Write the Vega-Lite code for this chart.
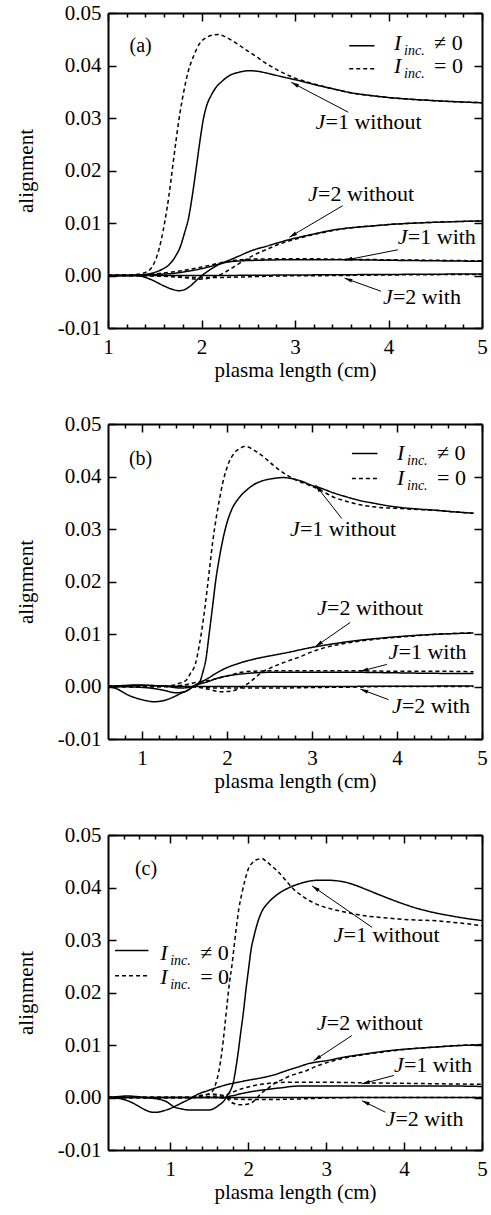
{
"$schema": "https://vega.github.io/schema/vega-lite/v6.json",
"padding": {"left": 15, "top": 2, "right": 5, "bottom": 5},
"background": "white",
"config": {
  "view": {"stroke": null},
  "axis": {"labelFont": "Liberation Serif", "labelFontSize": 21, "labelColor": "black", "titleFont": "Liberation Serif", "titleFontSize": 21, "titleFontWeight": "normal", "titleColor": "black", "tickColor": "black", "domainColor": "black", "domainWidth": 2, "tickWidth": 1.5, "grid": false, "labelFlush": false, "labelOverlap": false},
  "text": {"font": "Liberation Serif", "color": "black"}
},
"datasets": {
"curves": [
{"p":"a","s":"J1wo","t":"nonzero","x":1,"y":0},{"p":"a","s":"J1wo","t":"nonzero","x":1.2,"y":0},{"p":"a","s":"J1wo","t":"nonzero","x":1.3,"y":0.0001},{"p":"a","s":"J1wo","t":"nonzero","x":1.4,"y":0.0002},{"p":"a","s":"J1wo","t":"nonzero","x":1.5,"y":0.0006},{"p":"a","s":"J1wo","t":"nonzero","x":1.57,"y":0.0011},{"p":"a","s":"J1wo","t":"nonzero","x":1.65,"y":0.002},{"p":"a","s":"J1wo","t":"nonzero","x":1.72,"y":0.0036},{"p":"a","s":"J1wo","t":"nonzero","x":1.78,"y":0.0058},{"p":"a","s":"J1wo","t":"nonzero","x":1.82,"y":0.0082},{"p":"a","s":"J1wo","t":"nonzero","x":1.86,"y":0.0108},{"p":"a","s":"J1wo","t":"nonzero","x":1.9,"y":0.015},{"p":"a","s":"J1wo","t":"nonzero","x":1.94,"y":0.02},{"p":"a","s":"J1wo","t":"nonzero","x":1.98,"y":0.0252},{"p":"a","s":"J1wo","t":"nonzero","x":2.02,"y":0.0298},{"p":"a","s":"J1wo","t":"nonzero","x":2.06,"y":0.0326},{"p":"a","s":"J1wo","t":"nonzero","x":2.1,"y":0.0342},{"p":"a","s":"J1wo","t":"nonzero","x":2.15,"y":0.0357},{"p":"a","s":"J1wo","t":"nonzero","x":2.22,"y":0.037},{"p":"a","s":"J1wo","t":"nonzero","x":2.3,"y":0.0381},{"p":"a","s":"J1wo","t":"nonzero","x":2.4,"y":0.0387},{"p":"a","s":"J1wo","t":"nonzero","x":2.5,"y":0.039},{"p":"a","s":"J1wo","t":"nonzero","x":2.6,"y":0.0389},{"p":"a","s":"J1wo","t":"nonzero","x":2.71,"y":0.0385},{"p":"a","s":"J1wo","t":"nonzero","x":2.85,"y":0.0379},{"p":"a","s":"J1wo","t":"nonzero","x":3,"y":0.0373},{"p":"a","s":"J1wo","t":"nonzero","x":3.2,"y":0.0364},{"p":"a","s":"J1wo","t":"nonzero","x":3.42,"y":0.0355},{"p":"a","s":"J1wo","t":"nonzero","x":3.6,"y":0.0348},{"p":"a","s":"J1wo","t":"nonzero","x":3.8,"y":0.0343},{"p":"a","s":"J1wo","t":"nonzero","x":4,"y":0.0339},{"p":"a","s":"J1wo","t":"nonzero","x":4.3,"y":0.0335},{"p":"a","s":"J1wo","t":"nonzero","x":4.6,"y":0.0332},{"p":"a","s":"J1wo","t":"nonzero","x":5,"y":0.0329},
{"p":"a","s":"J1wo","t":"zero","x":1,"y":0},{"p":"a","s":"J1wo","t":"zero","x":1.3,"y":0.0002},{"p":"a","s":"J1wo","t":"zero","x":1.4,"y":0.0006},{"p":"a","s":"J1wo","t":"zero","x":1.47,"y":0.0016},{"p":"a","s":"J1wo","t":"zero","x":1.52,"y":0.0035},{"p":"a","s":"J1wo","t":"zero","x":1.57,"y":0.0068},{"p":"a","s":"J1wo","t":"zero","x":1.61,"y":0.0105},{"p":"a","s":"J1wo","t":"zero","x":1.65,"y":0.015},{"p":"a","s":"J1wo","t":"zero","x":1.69,"y":0.0205},{"p":"a","s":"J1wo","t":"zero","x":1.73,"y":0.026},{"p":"a","s":"J1wo","t":"zero","x":1.77,"y":0.031},{"p":"a","s":"J1wo","t":"zero","x":1.81,"y":0.035},{"p":"a","s":"J1wo","t":"zero","x":1.86,"y":0.039},{"p":"a","s":"J1wo","t":"zero","x":1.92,"y":0.042},{"p":"a","s":"J1wo","t":"zero","x":1.98,"y":0.0442},{"p":"a","s":"J1wo","t":"zero","x":2.05,"y":0.0453},{"p":"a","s":"J1wo","t":"zero","x":2.12,"y":0.0458},{"p":"a","s":"J1wo","t":"zero","x":2.18,"y":0.0459},{"p":"a","s":"J1wo","t":"zero","x":2.25,"y":0.0455},{"p":"a","s":"J1wo","t":"zero","x":2.35,"y":0.0445},{"p":"a","s":"J1wo","t":"zero","x":2.45,"y":0.0433},{"p":"a","s":"J1wo","t":"zero","x":2.57,"y":0.0419},{"p":"a","s":"J1wo","t":"zero","x":2.7,"y":0.0403},{"p":"a","s":"J1wo","t":"zero","x":2.85,"y":0.0388},{"p":"a","s":"J1wo","t":"zero","x":3,"y":0.0376},{"p":"a","s":"J1wo","t":"zero","x":3.2,"y":0.0365},{"p":"a","s":"J1wo","t":"zero","x":3.42,"y":0.0355},{"p":"a","s":"J1wo","t":"zero","x":3.6,"y":0.0348},{"p":"a","s":"J1wo","t":"zero","x":3.8,"y":0.0343},{"p":"a","s":"J1wo","t":"zero","x":4,"y":0.0339},{"p":"a","s":"J1wo","t":"zero","x":4.3,"y":0.0335},{"p":"a","s":"J1wo","t":"zero","x":4.6,"y":0.0332},{"p":"a","s":"J1wo","t":"zero","x":5,"y":0.0329},
{"p":"a","s":"J2wo","t":"nonzero","x":1,"y":0},{"p":"a","s":"J2wo","t":"nonzero","x":1.3,"y":0},{"p":"a","s":"J2wo","t":"nonzero","x":1.5,"y":0.0002},{"p":"a","s":"J2wo","t":"nonzero","x":1.7,"y":0.0004},{"p":"a","s":"J2wo","t":"nonzero","x":1.85,"y":0.0008},{"p":"a","s":"J2wo","t":"nonzero","x":2,"y":0.0013},{"p":"a","s":"J2wo","t":"nonzero","x":2.15,"y":0.002},{"p":"a","s":"J2wo","t":"nonzero","x":2.28,"y":0.0028},{"p":"a","s":"J2wo","t":"nonzero","x":2.4,"y":0.0037},{"p":"a","s":"J2wo","t":"nonzero","x":2.53,"y":0.0047},{"p":"a","s":"J2wo","t":"nonzero","x":2.7,"y":0.0056},{"p":"a","s":"J2wo","t":"nonzero","x":2.85,"y":0.0064},{"p":"a","s":"J2wo","t":"nonzero","x":3,"y":0.0071},{"p":"a","s":"J2wo","t":"nonzero","x":3.2,"y":0.0079},{"p":"a","s":"J2wo","t":"nonzero","x":3.42,"y":0.0087},{"p":"a","s":"J2wo","t":"nonzero","x":3.6,"y":0.0091},{"p":"a","s":"J2wo","t":"nonzero","x":3.8,"y":0.0094},{"p":"a","s":"J2wo","t":"nonzero","x":4,"y":0.0097},{"p":"a","s":"J2wo","t":"nonzero","x":4.3,"y":0.01},{"p":"a","s":"J2wo","t":"nonzero","x":4.6,"y":0.0102},{"p":"a","s":"J2wo","t":"nonzero","x":5,"y":0.0104},
{"p":"a","s":"J2wo","t":"zero","x":1,"y":0},{"p":"a","s":"J2wo","t":"zero","x":1.5,"y":0},{"p":"a","s":"J2wo","t":"zero","x":1.7,"y":-0.0002},{"p":"a","s":"J2wo","t":"zero","x":1.85,"y":-0.0005},{"p":"a","s":"J2wo","t":"zero","x":1.95,"y":-0.0007},{"p":"a","s":"J2wo","t":"zero","x":2.05,"y":-0.0006},{"p":"a","s":"J2wo","t":"zero","x":2.15,"y":-0.0002},{"p":"a","s":"J2wo","t":"zero","x":2.25,"y":0.0006},{"p":"a","s":"J2wo","t":"zero","x":2.35,"y":0.0017},{"p":"a","s":"J2wo","t":"zero","x":2.45,"y":0.0028},{"p":"a","s":"J2wo","t":"zero","x":2.55,"y":0.0038},{"p":"a","s":"J2wo","t":"zero","x":2.7,"y":0.005},{"p":"a","s":"J2wo","t":"zero","x":2.85,"y":0.0061},{"p":"a","s":"J2wo","t":"zero","x":3,"y":0.0069},{"p":"a","s":"J2wo","t":"zero","x":3.2,"y":0.0078},{"p":"a","s":"J2wo","t":"zero","x":3.42,"y":0.0086},{"p":"a","s":"J2wo","t":"zero","x":3.6,"y":0.0091},{"p":"a","s":"J2wo","t":"zero","x":3.8,"y":0.0094},{"p":"a","s":"J2wo","t":"zero","x":4,"y":0.0097},{"p":"a","s":"J2wo","t":"zero","x":4.3,"y":0.01},{"p":"a","s":"J2wo","t":"zero","x":4.6,"y":0.0102},{"p":"a","s":"J2wo","t":"zero","x":5,"y":0.0104},
{"p":"a","s":"J1w","t":"nonzero","x":1,"y":0},{"p":"a","s":"J1w","t":"nonzero","x":1.3,"y":0},{"p":"a","s":"J1w","t":"nonzero","x":1.45,"y":-0.0007},{"p":"a","s":"J1w","t":"nonzero","x":1.6,"y":-0.002},{"p":"a","s":"J1w","t":"nonzero","x":1.7,"y":-0.0027},{"p":"a","s":"J1w","t":"nonzero","x":1.76,"y":-0.0029},{"p":"a","s":"J1w","t":"nonzero","x":1.83,"y":-0.0026},{"p":"a","s":"J1w","t":"nonzero","x":1.9,"y":-0.0017},{"p":"a","s":"J1w","t":"nonzero","x":1.96,"y":-0.0007},{"p":"a","s":"J1w","t":"nonzero","x":2.02,"y":0.0002},{"p":"a","s":"J1w","t":"nonzero","x":2.1,"y":0.0012},{"p":"a","s":"J1w","t":"nonzero","x":2.2,"y":0.0022},{"p":"a","s":"J1w","t":"nonzero","x":2.3,"y":0.0026},{"p":"a","s":"J1w","t":"nonzero","x":2.43,"y":0.0028},{"p":"a","s":"J1w","t":"nonzero","x":2.6,"y":0.0029},{"p":"a","s":"J1w","t":"nonzero","x":3,"y":0.003},{"p":"a","s":"J1w","t":"nonzero","x":3.5,"y":0.003},{"p":"a","s":"J1w","t":"nonzero","x":4,"y":0.0029},{"p":"a","s":"J1w","t":"nonzero","x":4.5,"y":0.0028},{"p":"a","s":"J1w","t":"nonzero","x":5,"y":0.0027},
{"p":"a","s":"J1w","t":"zero","x":1,"y":0},{"p":"a","s":"J1w","t":"zero","x":1.3,"y":0.0001},{"p":"a","s":"J1w","t":"zero","x":1.5,"y":0.0003},{"p":"a","s":"J1w","t":"zero","x":1.7,"y":0.0007},{"p":"a","s":"J1w","t":"zero","x":1.85,"y":0.0011},{"p":"a","s":"J1w","t":"zero","x":2,"y":0.0016},{"p":"a","s":"J1w","t":"zero","x":2.2,"y":0.0024},{"p":"a","s":"J1w","t":"zero","x":2.35,"y":0.0029},{"p":"a","s":"J1w","t":"zero","x":2.5,"y":0.0031},{"p":"a","s":"J1w","t":"zero","x":3,"y":0.0032},{"p":"a","s":"J1w","t":"zero","x":3.5,"y":0.0031},{"p":"a","s":"J1w","t":"zero","x":4,"y":0.003},{"p":"a","s":"J1w","t":"zero","x":4.5,"y":0.0029},{"p":"a","s":"J1w","t":"zero","x":5,"y":0.0028},
{"p":"a","s":"J2w","t":"nonzero","x":1,"y":0},{"p":"a","s":"J2w","t":"nonzero","x":2,"y":0},{"p":"a","s":"J2w","t":"nonzero","x":3,"y":0.0001},{"p":"a","s":"J2w","t":"nonzero","x":4,"y":0.0002},{"p":"a","s":"J2w","t":"nonzero","x":5,"y":0.0003},
{"p":"a","s":"J2w","t":"zero","x":1,"y":0},{"p":"a","s":"J2w","t":"zero","x":1.5,"y":-0.0001},{"p":"a","s":"J2w","t":"zero","x":1.8,"y":-0.0003},{"p":"a","s":"J2w","t":"zero","x":2.1,"y":-0.0004},{"p":"a","s":"J2w","t":"zero","x":2.4,"y":-0.0003},{"p":"a","s":"J2w","t":"zero","x":2.8,"y":-0.0001},{"p":"a","s":"J2w","t":"zero","x":3.5,"y":0},{"p":"a","s":"J2w","t":"zero","x":4,"y":0.0001},{"p":"a","s":"J2w","t":"zero","x":5,"y":0.0002},

{"p":"b","s":"J1wo","t":"nonzero","x":0.6,"y":0},{"p":"b","s":"J1wo","t":"nonzero","x":0.8,"y":0.0002},{"p":"b","s":"J1wo","t":"nonzero","x":0.95,"y":0.0003},{"p":"b","s":"J1wo","t":"nonzero","x":1.1,"y":0.0002},{"p":"b","s":"J1wo","t":"nonzero","x":1.3,"y":0},{"p":"b","s":"J1wo","t":"nonzero","x":1.45,"y":-0.0003},{"p":"b","s":"J1wo","t":"nonzero","x":1.6,"y":0},{"p":"b","s":"J1wo","t":"nonzero","x":1.67,"y":0.0006},{"p":"b","s":"J1wo","t":"nonzero","x":1.72,"y":0.003},{"p":"b","s":"J1wo","t":"nonzero","x":1.75,"y":0.005},{"p":"b","s":"J1wo","t":"nonzero","x":1.79,"y":0.01},{"p":"b","s":"J1wo","t":"nonzero","x":1.83,"y":0.0152},{"p":"b","s":"J1wo","t":"nonzero","x":1.87,"y":0.0205},{"p":"b","s":"J1wo","t":"nonzero","x":1.91,"y":0.0245},{"p":"b","s":"J1wo","t":"nonzero","x":1.95,"y":0.0279},{"p":"b","s":"J1wo","t":"nonzero","x":2,"y":0.0312},{"p":"b","s":"J1wo","t":"nonzero","x":2.05,"y":0.0335},{"p":"b","s":"J1wo","t":"nonzero","x":2.15,"y":0.0361},{"p":"b","s":"J1wo","t":"nonzero","x":2.23,"y":0.0374},{"p":"b","s":"J1wo","t":"nonzero","x":2.31,"y":0.0384},{"p":"b","s":"J1wo","t":"nonzero","x":2.42,"y":0.0392},{"p":"b","s":"J1wo","t":"nonzero","x":2.54,"y":0.0396},{"p":"b","s":"J1wo","t":"nonzero","x":2.66,"y":0.0398},{"p":"b","s":"J1wo","t":"nonzero","x":2.76,"y":0.0396},{"p":"b","s":"J1wo","t":"nonzero","x":2.86,"y":0.0392},{"p":"b","s":"J1wo","t":"nonzero","x":3,"y":0.0383},{"p":"b","s":"J1wo","t":"nonzero","x":3.1,"y":0.0378},{"p":"b","s":"J1wo","t":"nonzero","x":3.25,"y":0.0369},{"p":"b","s":"J1wo","t":"nonzero","x":3.41,"y":0.0361},{"p":"b","s":"J1wo","t":"nonzero","x":3.57,"y":0.0354},{"p":"b","s":"J1wo","t":"nonzero","x":3.73,"y":0.0349},{"p":"b","s":"J1wo","t":"nonzero","x":3.9,"y":0.0344},{"p":"b","s":"J1wo","t":"nonzero","x":4.04,"y":0.0341},{"p":"b","s":"J1wo","t":"nonzero","x":4.25,"y":0.0338},{"p":"b","s":"J1wo","t":"nonzero","x":4.43,"y":0.0336},{"p":"b","s":"J1wo","t":"nonzero","x":4.65,"y":0.0333},{"p":"b","s":"J1wo","t":"nonzero","x":4.9,"y":0.033},
{"p":"b","s":"J1wo","t":"zero","x":0.6,"y":0},{"p":"b","s":"J1wo","t":"zero","x":1.2,"y":0},{"p":"b","s":"J1wo","t":"zero","x":1.35,"y":0.0002},{"p":"b","s":"J1wo","t":"zero","x":1.45,"y":0.0007},{"p":"b","s":"J1wo","t":"zero","x":1.52,"y":0.0012},{"p":"b","s":"J1wo","t":"zero","x":1.57,"y":0.0025},{"p":"b","s":"J1wo","t":"zero","x":1.63,"y":0.0044},{"p":"b","s":"J1wo","t":"zero","x":1.67,"y":0.0075},{"p":"b","s":"J1wo","t":"zero","x":1.71,"y":0.0114},{"p":"b","s":"J1wo","t":"zero","x":1.74,"y":0.015},{"p":"b","s":"J1wo","t":"zero","x":1.77,"y":0.019},{"p":"b","s":"J1wo","t":"zero","x":1.8,"y":0.0232},{"p":"b","s":"J1wo","t":"zero","x":1.83,"y":0.0273},{"p":"b","s":"J1wo","t":"zero","x":1.87,"y":0.0318},{"p":"b","s":"J1wo","t":"zero","x":1.91,"y":0.0355},{"p":"b","s":"J1wo","t":"zero","x":1.95,"y":0.0388},{"p":"b","s":"J1wo","t":"zero","x":1.99,"y":0.0412},{"p":"b","s":"J1wo","t":"zero","x":2.03,"y":0.043},{"p":"b","s":"J1wo","t":"zero","x":2.07,"y":0.0441},{"p":"b","s":"J1wo","t":"zero","x":2.11,"y":0.0449},{"p":"b","s":"J1wo","t":"zero","x":2.15,"y":0.0453},{"p":"b","s":"J1wo","t":"zero","x":2.2,"y":0.0457},{"p":"b","s":"J1wo","t":"zero","x":2.25,"y":0.0456},{"p":"b","s":"J1wo","t":"zero","x":2.3,"y":0.0452},{"p":"b","s":"J1wo","t":"zero","x":2.35,"y":0.0447},{"p":"b","s":"J1wo","t":"zero","x":2.45,"y":0.0435},{"p":"b","s":"J1wo","t":"zero","x":2.54,"y":0.0422},{"p":"b","s":"J1wo","t":"zero","x":2.62,"y":0.0412},{"p":"b","s":"J1wo","t":"zero","x":2.7,"y":0.0403},{"p":"b","s":"J1wo","t":"zero","x":2.78,"y":0.0396},{"p":"b","s":"J1wo","t":"zero","x":2.86,"y":0.039},{"p":"b","s":"J1wo","t":"zero","x":2.94,"y":0.0385},{"p":"b","s":"J1wo","t":"zero","x":3.02,"y":0.038},{"p":"b","s":"J1wo","t":"zero","x":3.12,"y":0.0372},{"p":"b","s":"J1wo","t":"zero","x":3.25,"y":0.0361},{"p":"b","s":"J1wo","t":"zero","x":3.4,"y":0.0353},{"p":"b","s":"J1wo","t":"zero","x":3.57,"y":0.0346},{"p":"b","s":"J1wo","t":"zero","x":3.8,"y":0.0341},{"p":"b","s":"J1wo","t":"zero","x":4.04,"y":0.0339},{"p":"b","s":"J1wo","t":"zero","x":4.25,"y":0.0337},{"p":"b","s":"J1wo","t":"zero","x":4.43,"y":0.0336},{"p":"b","s":"J1wo","t":"zero","x":4.65,"y":0.0333},{"p":"b","s":"J1wo","t":"zero","x":4.9,"y":0.033},
{"p":"b","s":"J2wo","t":"nonzero","x":0.6,"y":0},{"p":"b","s":"J2wo","t":"nonzero","x":0.9,"y":-0.0001},{"p":"b","s":"J2wo","t":"nonzero","x":1.1,"y":-0.0003},{"p":"b","s":"J2wo","t":"nonzero","x":1.25,"y":-0.0007},{"p":"b","s":"J2wo","t":"nonzero","x":1.4,"y":-0.0012},{"p":"b","s":"J2wo","t":"nonzero","x":1.5,"y":-0.001},{"p":"b","s":"J2wo","t":"nonzero","x":1.57,"y":-0.0004},{"p":"b","s":"J2wo","t":"nonzero","x":1.62,"y":0.0002},{"p":"b","s":"J2wo","t":"nonzero","x":1.7,"y":0.0009},{"p":"b","s":"J2wo","t":"nonzero","x":1.77,"y":0.0015},{"p":"b","s":"J2wo","t":"nonzero","x":1.88,"y":0.0026},{"p":"b","s":"J2wo","t":"nonzero","x":2,"y":0.0036},{"p":"b","s":"J2wo","t":"nonzero","x":2.12,"y":0.0043},{"p":"b","s":"J2wo","t":"nonzero","x":2.24,"y":0.0049},{"p":"b","s":"J2wo","t":"nonzero","x":2.4,"y":0.0055},{"p":"b","s":"J2wo","t":"nonzero","x":2.56,"y":0.006},{"p":"b","s":"J2wo","t":"nonzero","x":2.75,"y":0.0066},{"p":"b","s":"J2wo","t":"nonzero","x":2.95,"y":0.0073},{"p":"b","s":"J2wo","t":"nonzero","x":3.2,"y":0.008},{"p":"b","s":"J2wo","t":"nonzero","x":3.5,"y":0.0087},{"p":"b","s":"J2wo","t":"nonzero","x":3.8,"y":0.0092},{"p":"b","s":"J2wo","t":"nonzero","x":4.1,"y":0.0096},{"p":"b","s":"J2wo","t":"nonzero","x":4.4,"y":0.0099},{"p":"b","s":"J2wo","t":"nonzero","x":4.7,"y":0.0101},{"p":"b","s":"J2wo","t":"nonzero","x":4.9,"y":0.0102},
{"p":"b","s":"J2wo","t":"zero","x":0.6,"y":0},{"p":"b","s":"J2wo","t":"zero","x":1.3,"y":0},{"p":"b","s":"J2wo","t":"zero","x":1.6,"y":0},{"p":"b","s":"J2wo","t":"zero","x":1.69,"y":-0.0002},{"p":"b","s":"J2wo","t":"zero","x":1.8,"y":-0.0006},{"p":"b","s":"J2wo","t":"zero","x":1.93,"y":-0.001},{"p":"b","s":"J2wo","t":"zero","x":2.05,"y":-0.0009},{"p":"b","s":"J2wo","t":"zero","x":2.15,"y":-0.0003},{"p":"b","s":"J2wo","t":"zero","x":2.24,"y":0.0005},{"p":"b","s":"J2wo","t":"zero","x":2.32,"y":0.0015},{"p":"b","s":"J2wo","t":"zero","x":2.4,"y":0.0026},{"p":"b","s":"J2wo","t":"zero","x":2.52,"y":0.0036},{"p":"b","s":"J2wo","t":"zero","x":2.64,"y":0.0044},{"p":"b","s":"J2wo","t":"zero","x":2.76,"y":0.0051},{"p":"b","s":"J2wo","t":"zero","x":2.87,"y":0.0057},{"p":"b","s":"J2wo","t":"zero","x":2.95,"y":0.0063},{"p":"b","s":"J2wo","t":"zero","x":3.05,"y":0.0069},{"p":"b","s":"J2wo","t":"zero","x":3.2,"y":0.0076},{"p":"b","s":"J2wo","t":"zero","x":3.5,"y":0.0085},{"p":"b","s":"J2wo","t":"zero","x":3.8,"y":0.0091},{"p":"b","s":"J2wo","t":"zero","x":4.1,"y":0.0095},{"p":"b","s":"J2wo","t":"zero","x":4.4,"y":0.0099},{"p":"b","s":"J2wo","t":"zero","x":4.7,"y":0.0101},{"p":"b","s":"J2wo","t":"zero","x":4.9,"y":0.0102},
{"p":"b","s":"J1w","t":"nonzero","x":0.6,"y":0},{"p":"b","s":"J1w","t":"nonzero","x":0.7,"y":-0.0004},{"p":"b","s":"J1w","t":"nonzero","x":0.82,"y":-0.0015},{"p":"b","s":"J1w","t":"nonzero","x":0.95,"y":-0.0023},{"p":"b","s":"J1w","t":"nonzero","x":1.05,"y":-0.0027},{"p":"b","s":"J1w","t":"nonzero","x":1.14,"y":-0.0029},{"p":"b","s":"J1w","t":"nonzero","x":1.25,"y":-0.0027},{"p":"b","s":"J1w","t":"nonzero","x":1.37,"y":-0.002},{"p":"b","s":"J1w","t":"nonzero","x":1.47,"y":-0.0012},{"p":"b","s":"J1w","t":"nonzero","x":1.53,"y":-0.0008},{"p":"b","s":"J1w","t":"nonzero","x":1.6,"y":0},{"p":"b","s":"J1w","t":"nonzero","x":1.68,"y":0.0005},{"p":"b","s":"J1w","t":"nonzero","x":1.77,"y":0.0009},{"p":"b","s":"J1w","t":"nonzero","x":1.89,"y":0.0016},{"p":"b","s":"J1w","t":"nonzero","x":2,"y":0.002},{"p":"b","s":"J1w","t":"nonzero","x":2.12,"y":0.0023},{"p":"b","s":"J1w","t":"nonzero","x":2.24,"y":0.0025},{"p":"b","s":"J1w","t":"nonzero","x":2.5,"y":0.0027},{"p":"b","s":"J1w","t":"nonzero","x":3,"y":0.0027},{"p":"b","s":"J1w","t":"nonzero","x":3.5,"y":0.0027},{"p":"b","s":"J1w","t":"nonzero","x":4,"y":0.0026},{"p":"b","s":"J1w","t":"nonzero","x":4.5,"y":0.0025},{"p":"b","s":"J1w","t":"nonzero","x":4.9,"y":0.0025},
{"p":"b","s":"J1w","t":"zero","x":0.6,"y":0},{"p":"b","s":"J1w","t":"zero","x":1.3,"y":0},{"p":"b","s":"J1w","t":"zero","x":1.53,"y":0.0004},{"p":"b","s":"J1w","t":"zero","x":1.65,"y":0.0008},{"p":"b","s":"J1w","t":"zero","x":1.77,"y":0.0011},{"p":"b","s":"J1w","t":"zero","x":1.93,"y":0.0017},{"p":"b","s":"J1w","t":"zero","x":2.05,"y":0.0022},{"p":"b","s":"J1w","t":"zero","x":2.16,"y":0.0027},{"p":"b","s":"J1w","t":"zero","x":2.3,"y":0.0029},{"p":"b","s":"J1w","t":"zero","x":2.6,"y":0.003},{"p":"b","s":"J1w","t":"zero","x":3,"y":0.003},{"p":"b","s":"J1w","t":"zero","x":3.5,"y":0.003},{"p":"b","s":"J1w","t":"zero","x":4,"y":0.0029},{"p":"b","s":"J1w","t":"zero","x":4.5,"y":0.0029},{"p":"b","s":"J1w","t":"zero","x":4.9,"y":0.0028},
{"p":"b","s":"J2w","t":"nonzero","x":0.6,"y":0},{"p":"b","s":"J2w","t":"nonzero","x":1,"y":0.0002},{"p":"b","s":"J2w","t":"nonzero","x":1.3,"y":0.0001},{"p":"b","s":"J2w","t":"nonzero","x":1.6,"y":0},{"p":"b","s":"J2w","t":"nonzero","x":2.5,"y":0},{"p":"b","s":"J2w","t":"nonzero","x":4.9,"y":0.0001},
{"p":"b","s":"J2w","t":"zero","x":0.6,"y":0},{"p":"b","s":"J2w","t":"zero","x":1.5,"y":0},{"p":"b","s":"J2w","t":"zero","x":1.7,"y":-0.0002},{"p":"b","s":"J2w","t":"zero","x":2,"y":-0.0003},{"p":"b","s":"J2w","t":"zero","x":2.5,"y":-0.0003},{"p":"b","s":"J2w","t":"zero","x":3,"y":-0.0002},{"p":"b","s":"J2w","t":"zero","x":3.5,"y":-0.0001},{"p":"b","s":"J2w","t":"zero","x":4,"y":0},{"p":"b","s":"J2w","t":"zero","x":4.9,"y":0},

{"p":"c","s":"J1wo","t":"nonzero","x":0.2,"y":0},{"p":"c","s":"J1wo","t":"nonzero","x":0.6,"y":0},{"p":"c","s":"J1wo","t":"nonzero","x":0.8,"y":-0.0002},{"p":"c","s":"J1wo","t":"nonzero","x":0.95,"y":-0.0008},{"p":"c","s":"J1wo","t":"nonzero","x":1.05,"y":-0.0018},{"p":"c","s":"J1wo","t":"nonzero","x":1.15,"y":-0.0022},{"p":"c","s":"J1wo","t":"nonzero","x":1.26,"y":-0.0024},{"p":"c","s":"J1wo","t":"nonzero","x":1.4,"y":-0.0024},{"p":"c","s":"J1wo","t":"nonzero","x":1.48,"y":-0.0024},{"p":"c","s":"J1wo","t":"nonzero","x":1.56,"y":-0.0021},{"p":"c","s":"J1wo","t":"nonzero","x":1.62,"y":-0.0015},{"p":"c","s":"J1wo","t":"nonzero","x":1.69,"y":-0.0006},{"p":"c","s":"J1wo","t":"nonzero","x":1.73,"y":0.0004},{"p":"c","s":"J1wo","t":"nonzero","x":1.78,"y":0.0016},{"p":"c","s":"J1wo","t":"nonzero","x":1.81,"y":0.003},{"p":"c","s":"J1wo","t":"nonzero","x":1.84,"y":0.0055},{"p":"c","s":"J1wo","t":"nonzero","x":1.87,"y":0.0085},{"p":"c","s":"J1wo","t":"nonzero","x":1.9,"y":0.012},{"p":"c","s":"J1wo","t":"nonzero","x":1.94,"y":0.0165},{"p":"c","s":"J1wo","t":"nonzero","x":1.97,"y":0.0205},{"p":"c","s":"J1wo","t":"nonzero","x":2,"y":0.024},{"p":"c","s":"J1wo","t":"nonzero","x":2.04,"y":0.0285},{"p":"c","s":"J1wo","t":"nonzero","x":2.07,"y":0.0305},{"p":"c","s":"J1wo","t":"nonzero","x":2.12,"y":0.0333},{"p":"c","s":"J1wo","t":"nonzero","x":2.17,"y":0.0353},{"p":"c","s":"J1wo","t":"nonzero","x":2.25,"y":0.037},{"p":"c","s":"J1wo","t":"nonzero","x":2.35,"y":0.0384},{"p":"c","s":"J1wo","t":"nonzero","x":2.45,"y":0.0394},{"p":"c","s":"J1wo","t":"nonzero","x":2.56,"y":0.0402},{"p":"c","s":"J1wo","t":"nonzero","x":2.7,"y":0.0409},{"p":"c","s":"J1wo","t":"nonzero","x":2.82,"y":0.0413},{"p":"c","s":"J1wo","t":"nonzero","x":2.92,"y":0.0414},{"p":"c","s":"J1wo","t":"nonzero","x":3.01,"y":0.0414},{"p":"c","s":"J1wo","t":"nonzero","x":3.12,"y":0.0413},{"p":"c","s":"J1wo","t":"nonzero","x":3.25,"y":0.041},{"p":"c","s":"J1wo","t":"nonzero","x":3.38,"y":0.0404},{"p":"c","s":"J1wo","t":"nonzero","x":3.5,"y":0.0397},{"p":"c","s":"J1wo","t":"nonzero","x":3.7,"y":0.0385},{"p":"c","s":"J1wo","t":"nonzero","x":3.93,"y":0.0372},{"p":"c","s":"J1wo","t":"nonzero","x":4.15,"y":0.0361},{"p":"c","s":"J1wo","t":"nonzero","x":4.36,"y":0.0353},{"p":"c","s":"J1wo","t":"nonzero","x":4.6,"y":0.0346},{"p":"c","s":"J1wo","t":"nonzero","x":4.8,"y":0.0341},{"p":"c","s":"J1wo","t":"nonzero","x":5,"y":0.0337},
{"p":"c","s":"J1wo","t":"zero","x":0.2,"y":0},{"p":"c","s":"J1wo","t":"zero","x":1.2,"y":0},{"p":"c","s":"J1wo","t":"zero","x":1.4,"y":0.0003},{"p":"c","s":"J1wo","t":"zero","x":1.53,"y":0.001},{"p":"c","s":"J1wo","t":"zero","x":1.58,"y":0.0025},{"p":"c","s":"J1wo","t":"zero","x":1.62,"y":0.0048},{"p":"c","s":"J1wo","t":"zero","x":1.66,"y":0.0085},{"p":"c","s":"J1wo","t":"zero","x":1.7,"y":0.0137},{"p":"c","s":"J1wo","t":"zero","x":1.73,"y":0.018},{"p":"c","s":"J1wo","t":"zero","x":1.76,"y":0.022},{"p":"c","s":"J1wo","t":"zero","x":1.79,"y":0.0251},{"p":"c","s":"J1wo","t":"zero","x":1.82,"y":0.029},{"p":"c","s":"J1wo","t":"zero","x":1.85,"y":0.0327},{"p":"c","s":"J1wo","t":"zero","x":1.88,"y":0.036},{"p":"c","s":"J1wo","t":"zero","x":1.92,"y":0.039},{"p":"c","s":"J1wo","t":"zero","x":1.96,"y":0.0415},{"p":"c","s":"J1wo","t":"zero","x":2,"y":0.0435},{"p":"c","s":"J1wo","t":"zero","x":2.06,"y":0.0448},{"p":"c","s":"J1wo","t":"zero","x":2.13,"y":0.0454},{"p":"c","s":"J1wo","t":"zero","x":2.18,"y":0.0455},{"p":"c","s":"J1wo","t":"zero","x":2.22,"y":0.0451},{"p":"c","s":"J1wo","t":"zero","x":2.3,"y":0.0441},{"p":"c","s":"J1wo","t":"zero","x":2.39,"y":0.0429},{"p":"c","s":"J1wo","t":"zero","x":2.48,"y":0.0414},{"p":"c","s":"J1wo","t":"zero","x":2.56,"y":0.04},{"p":"c","s":"J1wo","t":"zero","x":2.68,"y":0.0385},{"p":"c","s":"J1wo","t":"zero","x":2.82,"y":0.0372},{"p":"c","s":"J1wo","t":"zero","x":2.95,"y":0.0364},{"p":"c","s":"J1wo","t":"zero","x":3.07,"y":0.0359},{"p":"c","s":"J1wo","t":"zero","x":3.25,"y":0.0353},{"p":"c","s":"J1wo","t":"zero","x":3.5,"y":0.0346},{"p":"c","s":"J1wo","t":"zero","x":3.7,"y":0.0343},{"p":"c","s":"J1wo","t":"zero","x":3.93,"y":0.034},{"p":"c","s":"J1wo","t":"zero","x":4.15,"y":0.0338},{"p":"c","s":"J1wo","t":"zero","x":4.36,"y":0.0337},{"p":"c","s":"J1wo","t":"zero","x":4.6,"y":0.0334},{"p":"c","s":"J1wo","t":"zero","x":4.8,"y":0.0331},{"p":"c","s":"J1wo","t":"zero","x":5,"y":0.0327},
{"p":"c","s":"J2wo","t":"nonzero","x":0.2,"y":0},{"p":"c","s":"J2wo","t":"nonzero","x":0.35,"y":-0.0002},{"p":"c","s":"J2wo","t":"nonzero","x":0.45,"y":-0.0006},{"p":"c","s":"J2wo","t":"nonzero","x":0.55,"y":-0.0013},{"p":"c","s":"J2wo","t":"nonzero","x":0.62,"y":-0.0019},{"p":"c","s":"J2wo","t":"nonzero","x":0.7,"y":-0.0025},{"p":"c","s":"J2wo","t":"nonzero","x":0.77,"y":-0.0028},{"p":"c","s":"J2wo","t":"nonzero","x":0.83,"y":-0.0028},{"p":"c","s":"J2wo","t":"nonzero","x":0.92,"y":-0.0025},{"p":"c","s":"J2wo","t":"nonzero","x":1,"y":-0.0021},{"p":"c","s":"J2wo","t":"nonzero","x":1.07,"y":-0.0016},{"p":"c","s":"J2wo","t":"nonzero","x":1.15,"y":-0.001},{"p":"c","s":"J2wo","t":"nonzero","x":1.26,"y":-0.0002},{"p":"c","s":"J2wo","t":"nonzero","x":1.35,"y":0.0006},{"p":"c","s":"J2wo","t":"nonzero","x":1.48,"y":0.0013},{"p":"c","s":"J2wo","t":"nonzero","x":1.6,"y":0.0019},{"p":"c","s":"J2wo","t":"nonzero","x":1.69,"y":0.0023},{"p":"c","s":"J2wo","t":"nonzero","x":1.8,"y":0.0027},{"p":"c","s":"J2wo","t":"nonzero","x":1.9,"y":0.003},{"p":"c","s":"J2wo","t":"nonzero","x":2,"y":0.0033},{"p":"c","s":"J2wo","t":"nonzero","x":2.12,"y":0.0036},{"p":"c","s":"J2wo","t":"nonzero","x":2.22,"y":0.0039},{"p":"c","s":"J2wo","t":"nonzero","x":2.33,"y":0.0043},{"p":"c","s":"J2wo","t":"nonzero","x":2.45,"y":0.0049},{"p":"c","s":"J2wo","t":"nonzero","x":2.55,"y":0.0054},{"p":"c","s":"J2wo","t":"nonzero","x":2.66,"y":0.0059},{"p":"c","s":"J2wo","t":"nonzero","x":2.76,"y":0.0064},{"p":"c","s":"J2wo","t":"nonzero","x":2.9,"y":0.0068},{"p":"c","s":"J2wo","t":"nonzero","x":3,"y":0.007},{"p":"c","s":"J2wo","t":"nonzero","x":3.2,"y":0.0076},{"p":"c","s":"J2wo","t":"nonzero","x":3.5,"y":0.0083},{"p":"c","s":"J2wo","t":"nonzero","x":3.8,"y":0.0089},{"p":"c","s":"J2wo","t":"nonzero","x":4.1,"y":0.0093},{"p":"c","s":"J2wo","t":"nonzero","x":4.4,"y":0.0096},{"p":"c","s":"J2wo","t":"nonzero","x":4.7,"y":0.0099},{"p":"c","s":"J2wo","t":"nonzero","x":5,"y":0.01},
{"p":"c","s":"J2wo","t":"zero","x":0.2,"y":0},{"p":"c","s":"J2wo","t":"zero","x":1.3,"y":0},{"p":"c","s":"J2wo","t":"zero","x":1.5,"y":0.0002},{"p":"c","s":"J2wo","t":"zero","x":1.65,"y":0.0003},{"p":"c","s":"J2wo","t":"zero","x":1.72,"y":0},{"p":"c","s":"J2wo","t":"zero","x":1.78,"y":-0.0009},{"p":"c","s":"J2wo","t":"zero","x":1.9,"y":-0.0014},{"p":"c","s":"J2wo","t":"zero","x":2.03,"y":-0.0011},{"p":"c","s":"J2wo","t":"zero","x":2.1,"y":-0.0003},{"p":"c","s":"J2wo","t":"zero","x":2.16,"y":0.0007},{"p":"c","s":"J2wo","t":"zero","x":2.25,"y":0.0017},{"p":"c","s":"J2wo","t":"zero","x":2.33,"y":0.0026},{"p":"c","s":"J2wo","t":"zero","x":2.45,"y":0.0035},{"p":"c","s":"J2wo","t":"zero","x":2.55,"y":0.0042},{"p":"c","s":"J2wo","t":"zero","x":2.66,"y":0.0047},{"p":"c","s":"J2wo","t":"zero","x":2.76,"y":0.0052},{"p":"c","s":"J2wo","t":"zero","x":2.88,"y":0.006},{"p":"c","s":"J2wo","t":"zero","x":3,"y":0.0066},{"p":"c","s":"J2wo","t":"zero","x":3.2,"y":0.0074},{"p":"c","s":"J2wo","t":"zero","x":3.5,"y":0.0082},{"p":"c","s":"J2wo","t":"zero","x":3.8,"y":0.0088},{"p":"c","s":"J2wo","t":"zero","x":4.1,"y":0.0093},{"p":"c","s":"J2wo","t":"zero","x":4.4,"y":0.0096},{"p":"c","s":"J2wo","t":"zero","x":4.7,"y":0.0099},{"p":"c","s":"J2wo","t":"zero","x":5,"y":0.0101},
{"p":"c","s":"J1w","t":"nonzero","x":0.2,"y":0},{"p":"c","s":"J1w","t":"nonzero","x":1,"y":0},{"p":"c","s":"J1w","t":"nonzero","x":1.7,"y":0},{"p":"c","s":"J1w","t":"nonzero","x":1.75,"y":0.0002},{"p":"c","s":"J1w","t":"nonzero","x":1.82,"y":0.0004},{"p":"c","s":"J1w","t":"nonzero","x":1.9,"y":0.0007},{"p":"c","s":"J1w","t":"nonzero","x":2,"y":0.001},{"p":"c","s":"J1w","t":"nonzero","x":2.12,"y":0.0013},{"p":"c","s":"J1w","t":"nonzero","x":2.22,"y":0.0015},{"p":"c","s":"J1w","t":"nonzero","x":2.33,"y":0.0017},{"p":"c","s":"J1w","t":"nonzero","x":2.45,"y":0.0019},{"p":"c","s":"J1w","t":"nonzero","x":2.55,"y":0.0021},{"p":"c","s":"J1w","t":"nonzero","x":2.7,"y":0.0022},{"p":"c","s":"J1w","t":"nonzero","x":3,"y":0.0022},{"p":"c","s":"J1w","t":"nonzero","x":3.5,"y":0.0022},{"p":"c","s":"J1w","t":"nonzero","x":4,"y":0.0022},{"p":"c","s":"J1w","t":"nonzero","x":4.5,"y":0.0022},{"p":"c","s":"J1w","t":"nonzero","x":5,"y":0.0021},
{"p":"c","s":"J1w","t":"zero","x":0.2,"y":0},{"p":"c","s":"J1w","t":"zero","x":1.2,"y":0},{"p":"c","s":"J1w","t":"zero","x":1.35,"y":0.0003},{"p":"c","s":"J1w","t":"zero","x":1.5,"y":0.0006},{"p":"c","s":"J1w","t":"zero","x":1.6,"y":0.0006},{"p":"c","s":"J1w","t":"zero","x":1.69,"y":0.0004},{"p":"c","s":"J1w","t":"zero","x":1.78,"y":0.0009},{"p":"c","s":"J1w","t":"zero","x":1.9,"y":0.0016},{"p":"c","s":"J1w","t":"zero","x":2,"y":0.002},{"p":"c","s":"J1w","t":"zero","x":2.12,"y":0.0024},{"p":"c","s":"J1w","t":"zero","x":2.22,"y":0.0026},{"p":"c","s":"J1w","t":"zero","x":2.33,"y":0.0028},{"p":"c","s":"J1w","t":"zero","x":2.5,"y":0.0029},{"p":"c","s":"J1w","t":"zero","x":3,"y":0.0029},{"p":"c","s":"J1w","t":"zero","x":3.5,"y":0.0028},{"p":"c","s":"J1w","t":"zero","x":4,"y":0.0027},{"p":"c","s":"J1w","t":"zero","x":4.5,"y":0.0026},{"p":"c","s":"J1w","t":"zero","x":5,"y":0.0025},
{"p":"c","s":"J2w","t":"nonzero","x":0.2,"y":0},{"p":"c","s":"J2w","t":"nonzero","x":0.35,"y":0.0002},{"p":"c","s":"J2w","t":"nonzero","x":0.45,"y":0.0003},{"p":"c","s":"J2w","t":"nonzero","x":0.55,"y":0.0002},{"p":"c","s":"J2w","t":"nonzero","x":0.7,"y":0},{"p":"c","s":"J2w","t":"nonzero","x":5,"y":0},
{"p":"c","s":"J2w","t":"zero","x":0.2,"y":0},{"p":"c","s":"J2w","t":"zero","x":1.6,"y":0},{"p":"c","s":"J2w","t":"zero","x":1.8,"y":-0.0003},{"p":"c","s":"J2w","t":"zero","x":2.2,"y":-0.0004},{"p":"c","s":"J2w","t":"zero","x":2.6,"y":-0.0003},{"p":"c","s":"J2w","t":"zero","x":3,"y":-0.0001},{"p":"c","s":"J2w","t":"zero","x":3.5,"y":0},{"p":"c","s":"J2w","t":"zero","x":5,"y":0}
],
"legend": [
{"p":"a","t":"nonzero","x":3.58,"x2":3.85,"y":0.04375,"tx":4.06,"ty":0.043,"rel":"≠ 0"},
{"p":"a","t":"zero","x":3.58,"x2":3.85,"y":0.0394,"tx":4.06,"ty":0.0386,"rel":"= 0"},
{"p":"b","t":"nonzero","x":3.47,"x2":3.77,"y":0.0444,"tx":4.0,"ty":0.0432,"rel":"≠ 0"},
{"p":"b","t":"zero","x":3.47,"x2":3.77,"y":0.0396,"tx":4.0,"ty":0.0384,"rel":"= 0"},
{"p":"c","t":"nonzero","x":0.29,"x2":0.72,"y":0.028,"tx":0.87,"ty":0.0261,"rel":"≠ 0"},
{"p":"c","t":"zero","x":0.29,"x2":0.72,"y":0.0232,"tx":0.87,"ty":0.0216,"rel":"= 0"}
],
"labels": [
{"p":"a","k":"J","x":3.22,"y":0.0279,"txt":"=1 without"},
{"p":"a","k":"J","x":3.14,"y":0.01427,"txt":"=2 without"},
{"p":"a","k":"J","x":4.1,"y":0.006,"txt":"=1 with"},
{"p":"a","k":"J","x":3.94,"y":-0.0054,"txt":"=2 with"},
{"p":"a","k":"tag","x":1.23,"y":0.0425,"txt":"(a)"},
{"p":"b","k":"J","x":2.74,"y":0.02866,"txt":"=1 without"},
{"p":"b","k":"J","x":3.06,"y":0.01363,"txt":"=2 without"},
{"p":"b","k":"J","x":3.9,"y":0.0052,"txt":"=1 with"},
{"p":"b","k":"J","x":3.94,"y":-0.0051,"txt":"=2 with"},
{"p":"b","k":"tag","x":0.846,"y":0.0422,"txt":"(b)"},
{"p":"c","k":"J","x":3.095,"y":0.02955,"txt":"=1 without"},
{"p":"c","k":"J","x":2.88,"y":0.01287,"txt":"=2 without"},
{"p":"c","k":"J","x":3.87,"y":0.00495,"txt":"=1 with"},
{"p":"c","k":"J","x":3.76,"y":-0.00545,"txt":"=2 with"},
{"p":"c","k":"tag","x":0.546,"y":0.0424,"txt":"(c)"}
],
"arrows": [
{"p":"a","x":3.57,"y":0.0311,"xe":2.96,"ye":0.0368},
{"p":"a","x":3.51,"y":0.0133,"xe":2.94,"ye":0.0073},
{"p":"a","x":4.1,"y":0.0049,"xe":3.53,"ye":0.0029},
{"p":"a","x":3.92,"y":-0.003,"xe":3.53,"ye":-0.0005},
{"p":"b","x":3.35,"y":0.032,"xe":3.04,"ye":0.0384},
{"p":"b","x":3.45,"y":0.0122,"xe":3.04,"ye":0.0076},
{"p":"b","x":3.88,"y":0.0042,"xe":3.57,"ye":0.0029},
{"p":"b","x":3.9,"y":-0.0025,"xe":3.57,"ye":-0.0005},
{"p":"c","x":3.59,"y":0.0324,"xe":2.82,"ye":0.0403},
{"p":"c","x":3.33,"y":0.0118,"xe":2.84,"ye":0.007},
{"p":"c","x":3.87,"y":0.0042,"xe":3.46,"ye":0.0026},
{"p":"c","x":3.76,"y":-0.0028,"xe":3.46,"ye":-0.0006}
]
},
"vconcat": [
{
"width": 374, "height": 315,
"resolve": {"axis": {"x": "independent", "y": "independent"}},
"layer": [
{"data": {"name": "curves"}, "transform": [{"filter": "datum.p == 'a'"}],
 "mark": {"type": "line", "interpolate": "monotone", "strokeWidth": 1.5, "color": "black"},
 "encoding": {
  "x": {"field": "x", "type": "quantitative", "scale": {"domain": [1, 5], "nice": false, "zero": false}, "axis": {"orient": "bottom", "values": [1,2,3,4,5], "tickSize": -8, "format": "d", "labelPadding": 16, "title": "plasma length (cm)", "titlePadding": 2}},
  "y": {"field": "y", "type": "quantitative", "scale": {"domain": [-0.01, 0.05], "nice": false, "zero": false}, "axis": {"orient": "left", "values": [-0.01,0,0.01,0.02,0.03,0.04,0.05], "tickSize": -8, "format": ".2f", "labelExpr": "replace(datum.label, '−', '-')", "labelPadding": 15, "title": "alignment", "titlePadding": 21}},
  "detail": {"field": "s"},
  "strokeDash": {"field": "t", "type": "nominal", "scale": {"domain": ["nonzero", "zero"], "range": [[1, 0], [4, 3]]}, "legend": null}
 }},
{"data": {"name": "legend"}, "transform": [{"filter": "datum.p == 'a'"}],
 "mark": {"type": "rule", "strokeWidth": 1.5, "color": "black"},
 "encoding": {
  "x": {"field": "x", "type": "quantitative", "scale": {"domain": [1, 5], "nice": false, "zero": false}, "axis": {"orient": "top", "values": [1,2,3,4,5], "tickSize": -8, "labels": false, "title": null}},
  "x2": {"field": "x2"},
  "y": {"field": "y", "type": "quantitative", "scale": {"domain": [-0.01, 0.05], "nice": false, "zero": false}, "axis": {"orient": "right", "values": [-0.01,0,0.01,0.02,0.03,0.04,0.05], "tickSize": -8, "labels": false, "title": null}},
  "strokeDash": {"field": "t", "type": "nominal", "scale": {"domain": ["nonzero", "zero"], "range": [[1, 0], [4, 3]]}, "legend": null}
 }},
{"data": {"name": "legend"}, "transform": [{"filter": "datum.p == 'a'"}],
 "mark": {"type": "text", "text": "I", "fontStyle": "italic", "fontSize": 22, "align": "left", "baseline": "alphabetic"},
 "encoding": {
  "x": {"field": "tx", "type": "quantitative", "scale": {"domain": [1, 5], "nice": false, "zero": false}, "axis": {"orient": "bottom", "values": [1.2,1.4,1.6,1.8,2.2,2.4,2.6,2.8,3.2,3.4,3.6,3.8,4.2,4.4,4.6,4.8], "tickSize": -4, "labels": false, "domain": false, "title": null}},
  "y": {"field": "ty", "type": "quantitative", "scale": {"domain": [-0.01, 0.05], "nice": false, "zero": false}, "axis": null}
 }},
{"data": {"name": "legend"}, "transform": [{"filter": "datum.p == 'a'"}],
 "mark": {"type": "text", "text": "inc.", "fontStyle": "italic", "fontSize": 14, "align": "left", "baseline": "alphabetic", "dx": 10, "dy": 5},
 "encoding": {
  "x": {"field": "tx", "type": "quantitative", "scale": {"domain": [1, 5], "nice": false, "zero": false}, "axis": {"orient": "top", "values": [1.2,1.4,1.6,1.8,2.2,2.4,2.6,2.8,3.2,3.4,3.6,3.8,4.2,4.4,4.6,4.8], "tickSize": -4, "labels": false, "domain": false, "title": null}},
  "y": {"field": "ty", "type": "quantitative", "scale": {"domain": [-0.01, 0.05], "nice": false, "zero": false}, "axis": null}
 }},
{"data": {"name": "legend"}, "transform": [{"filter": "datum.p == 'a'"}],
 "mark": {"type": "text", "fontSize": 22, "align": "left", "baseline": "alphabetic", "dx": 40},
 "encoding": {
  "x": {"field": "tx", "type": "quantitative", "scale": {"domain": [1, 5], "nice": false, "zero": false}, "axis": null},
  "y": {"field": "ty", "type": "quantitative", "scale": {"domain": [-0.01, 0.05], "nice": false, "zero": false}, "axis": null},
  "text": {"field": "rel"}
 }},
{"data": {"name": "labels"}, "transform": [{"filter": "datum.p == 'a' && datum.k == 'J'"}],
 "mark": {"type": "text", "text": "J", "fontStyle": "italic", "fontSize": 22, "align": "left", "baseline": "alphabetic"},
 "encoding": {
  "x": {"field": "x", "type": "quantitative", "scale": {"domain": [1, 5], "nice": false, "zero": false}, "axis": null},
  "y": {"field": "y", "type": "quantitative", "scale": {"domain": [-0.01, 0.05], "nice": false, "zero": false}, "axis": null}
 }},
{"data": {"name": "labels"}, "transform": [{"filter": "datum.p == 'a' && datum.k == 'J'"}],
 "mark": {"type": "text", "fontSize": 22, "align": "left", "baseline": "alphabetic", "dx": 10},
 "encoding": {
  "x": {"field": "x", "type": "quantitative", "scale": {"domain": [1, 5], "nice": false, "zero": false}, "axis": null},
  "y": {"field": "y", "type": "quantitative", "scale": {"domain": [-0.01, 0.05], "nice": false, "zero": false}, "axis": null},
  "text": {"field": "txt"}
 }},
{"data": {"name": "labels"}, "transform": [{"filter": "datum.p == 'a' && datum.k == 'tag'"}],
 "mark": {"type": "text", "fontSize": 20, "align": "left", "baseline": "alphabetic"},
 "encoding": {
  "x": {"field": "x", "type": "quantitative", "scale": {"domain": [1, 5], "nice": false, "zero": false}, "axis": null},
  "y": {"field": "y", "type": "quantitative", "scale": {"domain": [-0.01, 0.05], "nice": false, "zero": false}, "axis": null},
  "text": {"field": "txt"}
 }},
{"data": {"name": "arrows"}, "transform": [{"filter": "datum.p == 'a'"}],
 "mark": {"type": "rule", "strokeWidth": 1, "color": "black"},
 "encoding": {
  "x": {"field": "x", "type": "quantitative", "scale": {"domain": [1, 5], "nice": false, "zero": false}, "axis": null},
  "y": {"field": "y", "type": "quantitative", "scale": {"domain": [-0.01, 0.05], "nice": false, "zero": false}, "axis": null},
  "x2": {"field": "xe"}, "y2": {"field": "ye"}
 }},
{"data": {"name": "arrows"}, "transform": [{"filter": "datum.p == 'a'"}, {"calculate": "atan2((datum.xe - datum.x) * 93.5, (datum.ye - datum.y) * 5250) * 180 / PI", "as": "ang"}],
 "mark": {"type": "point", "shape": "M0,0L-0.65,2.6L0.65,2.6Z", "filled": true, "size": 36, "color": "black", "opacity": 1},
 "encoding": {
  "x": {"field": "xe", "type": "quantitative", "scale": {"domain": [1, 5], "nice": false, "zero": false}, "axis": null},
  "y": {"field": "ye", "type": "quantitative", "scale": {"domain": [-0.01, 0.05], "nice": false, "zero": false}, "axis": null},
  "angle": {"field": "ang", "type": "quantitative", "scale": null}
 }}
]
},
{
"width": 374, "height": 315,
"resolve": {"axis": {"x": "independent", "y": "independent"}},
"layer": [
{"data": {"name": "curves"}, "transform": [{"filter": "datum.p == 'b'"}],
 "mark": {"type": "line", "interpolate": "monotone", "strokeWidth": 1.5, "color": "black"},
 "encoding": {
  "x": {"field": "x", "type": "quantitative", "scale": {"domain": [0.6, 5], "nice": false, "zero": false}, "axis": {"orient": "bottom", "values": [1,2,3,4,5], "tickSize": -8, "format": "d", "labelPadding": 16, "title": "plasma length (cm)", "titlePadding": 2}},
  "y": {"field": "y", "type": "quantitative", "scale": {"domain": [-0.01, 0.05], "nice": false, "zero": false}, "axis": {"orient": "left", "values": [-0.01,0,0.01,0.02,0.03,0.04,0.05], "tickSize": -8, "format": ".2f", "labelExpr": "replace(datum.label, '−', '-')", "labelPadding": 15, "title": "alignment", "titlePadding": 21}},
  "detail": {"field": "s"},
  "strokeDash": {"field": "t", "type": "nominal", "scale": {"domain": ["nonzero", "zero"], "range": [[1, 0], [4, 3]]}, "legend": null}
 }},
{"data": {"name": "legend"}, "transform": [{"filter": "datum.p == 'b'"}],
 "mark": {"type": "rule", "strokeWidth": 1.5, "color": "black"},
 "encoding": {
  "x": {"field": "x", "type": "quantitative", "scale": {"domain": [0.6, 5], "nice": false, "zero": false}, "axis": {"orient": "top", "values": [1,2,3,4,5], "tickSize": -8, "labels": false, "title": null}},
  "x2": {"field": "x2"},
  "y": {"field": "y", "type": "quantitative", "scale": {"domain": [-0.01, 0.05], "nice": false, "zero": false}, "axis": {"orient": "right", "values": [-0.01,0,0.01,0.02,0.03,0.04,0.05], "tickSize": -8, "labels": false, "title": null}},
  "strokeDash": {"field": "t", "type": "nominal", "scale": {"domain": ["nonzero", "zero"], "range": [[1, 0], [4, 3]]}, "legend": null}
 }},
{"data": {"name": "legend"}, "transform": [{"filter": "datum.p == 'b'"}],
 "mark": {"type": "text", "text": "I", "fontStyle": "italic", "fontSize": 22, "align": "left", "baseline": "alphabetic"},
 "encoding": {
  "x": {"field": "tx", "type": "quantitative", "scale": {"domain": [0.6, 5], "nice": false, "zero": false}, "axis": {"orient": "bottom", "values": [0.8,1.2,1.4,1.6,1.8,2.2,2.4,2.6,2.8,3.2,3.4,3.6,3.8,4.2,4.4,4.6,4.8], "tickSize": -4, "labels": false, "domain": false, "title": null}},
  "y": {"field": "ty", "type": "quantitative", "scale": {"domain": [-0.01, 0.05], "nice": false, "zero": false}, "axis": null}
 }},
{"data": {"name": "legend"}, "transform": [{"filter": "datum.p == 'b'"}],
 "mark": {"type": "text", "text": "inc.", "fontStyle": "italic", "fontSize": 14, "align": "left", "baseline": "alphabetic", "dx": 10, "dy": 5},
 "encoding": {
  "x": {"field": "tx", "type": "quantitative", "scale": {"domain": [0.6, 5], "nice": false, "zero": false}, "axis": {"orient": "top", "values": [0.8,1.2,1.4,1.6,1.8,2.2,2.4,2.6,2.8,3.2,3.4,3.6,3.8,4.2,4.4,4.6,4.8], "tickSize": -4, "labels": false, "domain": false, "title": null}},
  "y": {"field": "ty", "type": "quantitative", "scale": {"domain": [-0.01, 0.05], "nice": false, "zero": false}, "axis": null}
 }},
{"data": {"name": "legend"}, "transform": [{"filter": "datum.p == 'b'"}],
 "mark": {"type": "text", "fontSize": 22, "align": "left", "baseline": "alphabetic", "dx": 40},
 "encoding": {
  "x": {"field": "tx", "type": "quantitative", "scale": {"domain": [0.6, 5], "nice": false, "zero": false}, "axis": null},
  "y": {"field": "ty", "type": "quantitative", "scale": {"domain": [-0.01, 0.05], "nice": false, "zero": false}, "axis": null},
  "text": {"field": "rel"}
 }},
{"data": {"name": "labels"}, "transform": [{"filter": "datum.p == 'b' && datum.k == 'J'"}],
 "mark": {"type": "text", "text": "J", "fontStyle": "italic", "fontSize": 22, "align": "left", "baseline": "alphabetic"},
 "encoding": {
  "x": {"field": "x", "type": "quantitative", "scale": {"domain": [0.6, 5], "nice": false, "zero": false}, "axis": null},
  "y": {"field": "y", "type": "quantitative", "scale": {"domain": [-0.01, 0.05], "nice": false, "zero": false}, "axis": null}
 }},
{"data": {"name": "labels"}, "transform": [{"filter": "datum.p == 'b' && datum.k == 'J'"}],
 "mark": {"type": "text", "fontSize": 22, "align": "left", "baseline": "alphabetic", "dx": 10},
 "encoding": {
  "x": {"field": "x", "type": "quantitative", "scale": {"domain": [0.6, 5], "nice": false, "zero": false}, "axis": null},
  "y": {"field": "y", "type": "quantitative", "scale": {"domain": [-0.01, 0.05], "nice": false, "zero": false}, "axis": null},
  "text": {"field": "txt"}
 }},
{"data": {"name": "labels"}, "transform": [{"filter": "datum.p == 'b' && datum.k == 'tag'"}],
 "mark": {"type": "text", "fontSize": 20, "align": "left", "baseline": "alphabetic"},
 "encoding": {
  "x": {"field": "x", "type": "quantitative", "scale": {"domain": [0.6, 5], "nice": false, "zero": false}, "axis": null},
  "y": {"field": "y", "type": "quantitative", "scale": {"domain": [-0.01, 0.05], "nice": false, "zero": false}, "axis": null},
  "text": {"field": "txt"}
 }},
{"data": {"name": "arrows"}, "transform": [{"filter": "datum.p == 'b'"}],
 "mark": {"type": "rule", "strokeWidth": 1, "color": "black"},
 "encoding": {
  "x": {"field": "x", "type": "quantitative", "scale": {"domain": [0.6, 5], "nice": false, "zero": false}, "axis": null},
  "y": {"field": "y", "type": "quantitative", "scale": {"domain": [-0.01, 0.05], "nice": false, "zero": false}, "axis": null},
  "x2": {"field": "xe"}, "y2": {"field": "ye"}
 }},
{"data": {"name": "arrows"}, "transform": [{"filter": "datum.p == 'b'"}, {"calculate": "atan2((datum.xe - datum.x) * 85, (datum.ye - datum.y) * 5250) * 180 / PI", "as": "ang"}],
 "mark": {"type": "point", "shape": "M0,0L-0.65,2.6L0.65,2.6Z", "filled": true, "size": 36, "color": "black", "opacity": 1},
 "encoding": {
  "x": {"field": "xe", "type": "quantitative", "scale": {"domain": [0.6, 5], "nice": false, "zero": false}, "axis": null},
  "y": {"field": "ye", "type": "quantitative", "scale": {"domain": [-0.01, 0.05], "nice": false, "zero": false}, "axis": null},
  "angle": {"field": "ang", "type": "quantitative", "scale": null}
 }}
]
},
{
"width": 374, "height": 315,
"resolve": {"axis": {"x": "independent", "y": "independent"}},
"layer": [
{"data": {"name": "curves"}, "transform": [{"filter": "datum.p == 'c'"}],
 "mark": {"type": "line", "interpolate": "monotone", "strokeWidth": 1.5, "color": "black"},
 "encoding": {
  "x": {"field": "x", "type": "quantitative", "scale": {"domain": [0.2, 5], "nice": false, "zero": false}, "axis": {"orient": "bottom", "values": [1,2,3,4,5], "tickSize": -8, "format": "d", "labelPadding": 16, "title": "plasma length (cm)", "titlePadding": 2}},
  "y": {"field": "y", "type": "quantitative", "scale": {"domain": [-0.01, 0.05], "nice": false, "zero": false}, "axis": {"orient": "left", "values": [-0.01,0,0.01,0.02,0.03,0.04,0.05], "tickSize": -8, "format": ".2f", "labelExpr": "replace(datum.label, '−', '-')", "labelPadding": 15, "title": "alignment", "titlePadding": 21}},
  "detail": {"field": "s"},
  "strokeDash": {"field": "t", "type": "nominal", "scale": {"domain": ["nonzero", "zero"], "range": [[1, 0], [4, 3]]}, "legend": null}
 }},
{"data": {"name": "legend"}, "transform": [{"filter": "datum.p == 'c'"}],
 "mark": {"type": "rule", "strokeWidth": 1.5, "color": "black"},
 "encoding": {
  "x": {"field": "x", "type": "quantitative", "scale": {"domain": [0.2, 5], "nice": false, "zero": false}, "axis": {"orient": "top", "values": [1,2,3,4,5], "tickSize": -8, "labels": false, "title": null}},
  "x2": {"field": "x2"},
  "y": {"field": "y", "type": "quantitative", "scale": {"domain": [-0.01, 0.05], "nice": false, "zero": false}, "axis": {"orient": "right", "values": [-0.01,0,0.01,0.02,0.03,0.04,0.05], "tickSize": -8, "labels": false, "title": null}},
  "strokeDash": {"field": "t", "type": "nominal", "scale": {"domain": ["nonzero", "zero"], "range": [[1, 0], [4, 3]]}, "legend": null}
 }},
{"data": {"name": "legend"}, "transform": [{"filter": "datum.p == 'c'"}],
 "mark": {"type": "text", "text": "I", "fontStyle": "italic", "fontSize": 22, "align": "left", "baseline": "alphabetic"},
 "encoding": {
  "x": {"field": "tx", "type": "quantitative", "scale": {"domain": [0.2, 5], "nice": false, "zero": false}, "axis": {"orient": "bottom", "values": [0.4,0.6,0.8,1.2,1.4,1.6,1.8,2.2,2.4,2.6,2.8,3.2,3.4,3.6,3.8,4.2,4.4,4.6,4.8], "tickSize": -4, "labels": false, "domain": false, "title": null}},
  "y": {"field": "ty", "type": "quantitative", "scale": {"domain": [-0.01, 0.05], "nice": false, "zero": false}, "axis": null}
 }},
{"data": {"name": "legend"}, "transform": [{"filter": "datum.p == 'c'"}],
 "mark": {"type": "text", "text": "inc.", "fontStyle": "italic", "fontSize": 14, "align": "left", "baseline": "alphabetic", "dx": 10, "dy": 5},
 "encoding": {
  "x": {"field": "tx", "type": "quantitative", "scale": {"domain": [0.2, 5], "nice": false, "zero": false}, "axis": {"orient": "top", "values": [0.4,0.6,0.8,1.2,1.4,1.6,1.8,2.2,2.4,2.6,2.8,3.2,3.4,3.6,3.8,4.2,4.4,4.6,4.8], "tickSize": -4, "labels": false, "domain": false, "title": null}},
  "y": {"field": "ty", "type": "quantitative", "scale": {"domain": [-0.01, 0.05], "nice": false, "zero": false}, "axis": null}
 }},
{"data": {"name": "legend"}, "transform": [{"filter": "datum.p == 'c'"}],
 "mark": {"type": "text", "fontSize": 22, "align": "left", "baseline": "alphabetic", "dx": 40},
 "encoding": {
  "x": {"field": "tx", "type": "quantitative", "scale": {"domain": [0.2, 5], "nice": false, "zero": false}, "axis": null},
  "y": {"field": "ty", "type": "quantitative", "scale": {"domain": [-0.01, 0.05], "nice": false, "zero": false}, "axis": null},
  "text": {"field": "rel"}
 }},
{"data": {"name": "labels"}, "transform": [{"filter": "datum.p == 'c' && datum.k == 'J'"}],
 "mark": {"type": "text", "text": "J", "fontStyle": "italic", "fontSize": 22, "align": "left", "baseline": "alphabetic"},
 "encoding": {
  "x": {"field": "x", "type": "quantitative", "scale": {"domain": [0.2, 5], "nice": false, "zero": false}, "axis": null},
  "y": {"field": "y", "type": "quantitative", "scale": {"domain": [-0.01, 0.05], "nice": false, "zero": false}, "axis": null}
 }},
{"data": {"name": "labels"}, "transform": [{"filter": "datum.p == 'c' && datum.k == 'J'"}],
 "mark": {"type": "text", "fontSize": 22, "align": "left", "baseline": "alphabetic", "dx": 10},
 "encoding": {
  "x": {"field": "x", "type": "quantitative", "scale": {"domain": [0.2, 5], "nice": false, "zero": false}, "axis": null},
  "y": {"field": "y", "type": "quantitative", "scale": {"domain": [-0.01, 0.05], "nice": false, "zero": false}, "axis": null},
  "text": {"field": "txt"}
 }},
{"data": {"name": "labels"}, "transform": [{"filter": "datum.p == 'c' && datum.k == 'tag'"}],
 "mark": {"type": "text", "fontSize": 20, "align": "left", "baseline": "alphabetic"},
 "encoding": {
  "x": {"field": "x", "type": "quantitative", "scale": {"domain": [0.2, 5], "nice": false, "zero": false}, "axis": null},
  "y": {"field": "y", "type": "quantitative", "scale": {"domain": [-0.01, 0.05], "nice": false, "zero": false}, "axis": null},
  "text": {"field": "txt"}
 }},
{"data": {"name": "arrows"}, "transform": [{"filter": "datum.p == 'c'"}],
 "mark": {"type": "rule", "strokeWidth": 1, "color": "black"},
 "encoding": {
  "x": {"field": "x", "type": "quantitative", "scale": {"domain": [0.2, 5], "nice": false, "zero": false}, "axis": null},
  "y": {"field": "y", "type": "quantitative", "scale": {"domain": [-0.01, 0.05], "nice": false, "zero": false}, "axis": null},
  "x2": {"field": "xe"}, "y2": {"field": "ye"}
 }},
{"data": {"name": "arrows"}, "transform": [{"filter": "datum.p == 'c'"}, {"calculate": "atan2((datum.xe - datum.x) * 77.9, (datum.ye - datum.y) * 5250) * 180 / PI", "as": "ang"}],
 "mark": {"type": "point", "shape": "M0,0L-0.65,2.6L0.65,2.6Z", "filled": true, "size": 36, "color": "black", "opacity": 1},
 "encoding": {
  "x": {"field": "xe", "type": "quantitative", "scale": {"domain": [0.2, 5], "nice": false, "zero": false}, "axis": null},
  "y": {"field": "ye", "type": "quantitative", "scale": {"domain": [-0.01, 0.05], "nice": false, "zero": false}, "axis": null},
  "angle": {"field": "ang", "type": "quantitative", "scale": null}
 }}
]
}
],
"spacing": 96,
"bounds": "flush"
}
